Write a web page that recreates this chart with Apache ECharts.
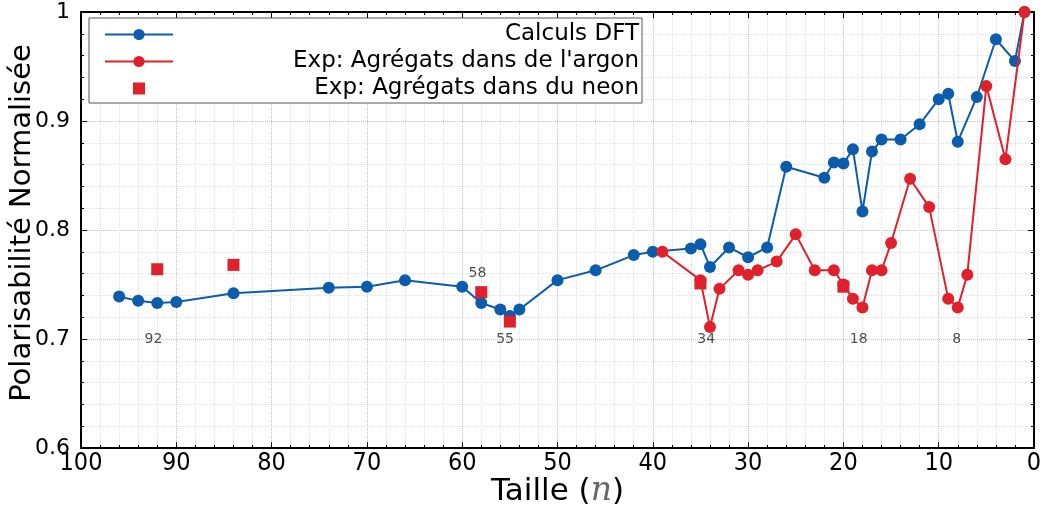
<!DOCTYPE html>
<html>
<head>
<meta charset="utf-8">
<script src="https://cdn.jsdelivr.net/npm/echarts@6/dist/echarts.min.js"></script>
<style>
  html, body { margin: 0; padding: 0; background: #fff; }
  #chart { width: 1049px; height: 507px; }
</style>
</head>
<body>
<div id="chart"></div>
<script>
// Calculs DFT (taille n, polarisabilité normalisée)
var dftN = [96, 94, 92, 90, 84, 74, 70, 66, 60, 58, 56, 55, 54, 50, 46, 42, 40, 36, 35, 34, 32, 30, 28, 26, 22, 21, 20, 19, 18, 17, 16, 14, 12, 10, 9, 8, 6, 4, 2, 1];
var dftY = [0.739, 0.735, 0.733, 0.734, 0.742, 0.747, 0.748, 0.754, 0.748, 0.733, 0.727, 0.721, 0.727, 0.754, 0.763, 0.777, 0.780, 0.783, 0.787, 0.766, 0.784, 0.775, 0.784, 0.858, 0.848, 0.862, 0.861, 0.874, 0.817, 0.872, 0.883, 0.883, 0.897, 0.920, 0.925, 0.881, 0.922, 0.975, 0.955, 1.0];

// Exp: argon
var argonN = [39, 35, 34, 33, 31, 30, 29, 27, 25, 23, 21, 20, 19, 18, 17, 16, 15, 13, 11, 9, 8, 7, 5, 3, 1];
var argonY = [0.780, 0.754, 0.711, 0.746, 0.763, 0.759, 0.763, 0.771, 0.796, 0.763, 0.763, 0.750, 0.737, 0.729, 0.763, 0.763, 0.788, 0.847, 0.821, 0.737, 0.729, 0.759, 0.932, 0.865, 1.0];

// Exp: neon
var neonN = [92, 84, 58, 55, 35, 20];
var neonY = [0.764, 0.768, 0.743, 0.716, 0.751, 0.748];

// annotations
var annoText = ['92', '58', '55', '34', '18', '8'];
var annoN = [92.4, 58.4, 55.5, 34.4, 18.4, 8.1];
var annoY = [0.7, 0.760, 0.7, 0.7, 0.7, 0.7];

var blue = '#0b5cad';
var red = '#e0202a';

function pairs(xs, ys) {
  return xs.map(function (x, i) { return [x, ys[i]]; });
}

var myChart = echarts.init(document.getElementById('chart'));

var gridLine = { show: true, lineStyle: { type: 'dotted', color: '#c4c4c4', width: 1 } };
var minorLine = { show: true, lineStyle: { type: 'dotted', color: '#e0e0e0', width: 1 } };
var blackLine = { show: true, onZero: false, lineStyle: { color: '#000', width: 2 } };
var tick = { inside: true, length: 6, lineStyle: { color: '#000' } };
var minor = { show: true, splitNumber: 5, length: 3, lineStyle: { color: '#000' } };

// petit carré centré dans la case de la légende
var squareIcon = 'path://M0,0h0.1v0.1h-0.1z M28,1h12v12h-12z M68,14h-0.1v-0.1h0.1z';

var option = {
  animation: false,
  grid: { left: 81, right: 15, top: 12, bottom: 59, outerBoundsMode: 'none', containLabel: false },
  legend: {
    orient: 'vertical',
    left: 89,
    top: 18,
    padding: [5, 3, 3, 15],
    itemGap: 4,
    itemWidth: 68,
    itemHeight: 14,
    backgroundColor: '#fff',
    borderColor: '#555',
    borderWidth: 1,
    data: [
      { name: 'Calculs DFT' },
      { name: "Exp: Agrégats dans de l'argon" },
      { name: 'Exp: Agrégats dans du neon', icon: squareIcon }
    ],
    formatter: function (name) { return '{a|' + name + '}'; },
    textStyle: {
      rich: {
        a: { width: 461, align: 'right', fontSize: 23, lineHeight: 24, fontFamily: 'DejaVu Sans', color: '#000' }
      }
    }
  },
  xAxis: [{
    type: 'value', min: 0, max: 100, interval: 10, inverse: true, position: 'bottom',
    name: 'Taille ({i|n})', nameLocation: 'middle', nameGap: 27, nameMoveOverlap: false,
    nameTextStyle: {
      fontSize: 31, fontFamily: 'DejaVu Sans', color: '#000',
      rich: { i: { fontSize: 33, fontStyle: 'italic', fontFamily: 'DejaVu Serif', color: '#666' } }
    },
    axisLine: blackLine,
    axisTick: tick,
    minorTick: minor,
    axisLabel: { fontSize: 25, color: '#000', fontFamily: 'DejaVu Sans Condensed', margin: 3 },
    splitLine: gridLine,
    minorSplitLine: minorLine
  }, {
    type: 'value', min: 0, max: 100, interval: 10, inverse: true, position: 'top',
    axisLine: blackLine,
    axisTick: tick,
    minorTick: minor,
    axisLabel: { show: false },
    splitLine: { show: false }
  }],
  yAxis: [{
    type: 'value', min: 0.6, max: 1, interval: 0.1, position: 'left',
    name: 'Polarisabilité Normalisée', nameLocation: 'middle', nameGap: 44, nameMoveOverlap: false,
    nameTextStyle: { fontSize: 29, fontFamily: 'DejaVu Sans', color: '#000', padding: [0, 0, 0, 14] },
    axisLine: blackLine,
    axisTick: tick,
    minorTick: minor,
    axisLabel: { fontSize: 22, color: '#000', fontFamily: 'DejaVu Sans', margin: 11 },
    splitLine: gridLine,
    minorSplitLine: minorLine
  }, {
    type: 'value', min: 0.6, max: 1, interval: 0.1, position: 'right',
    axisLine: blackLine,
    axisTick: tick,
    minorTick: minor,
    axisLabel: { show: false },
    splitLine: { show: false }
  }],
  series: [
    {
      name: 'Calculs DFT', type: 'line',
      data: pairs(dftN, dftY),
      symbol: 'circle', symbolSize: 12,
      itemStyle: { color: blue },
      lineStyle: { color: blue, width: 2 },
      z: 3
    },
    {
      name: "Exp: Agrégats dans de l'argon", type: 'line',
      data: pairs(argonN, argonY),
      symbol: 'circle', symbolSize: 12,
      itemStyle: { color: red },
      lineStyle: { color: red, width: 2 },
      z: 4
    },
    {
      name: 'Exp: Agrégats dans du neon', type: 'scatter',
      data: pairs(neonN, neonY),
      symbol: 'rect', symbolSize: 12,
      itemStyle: { color: red, opacity: 1 },
      z: 5
    },
    {
      name: 'annotations', type: 'scatter',
      data: annoN.map(function (n, i) { return { value: [n, annoY[i]], label: { formatter: annoText[i] } }; }),
      symbolSize: 0,
      silent: true,
      label: { show: true, position: 'inside', fontSize: 14, color: '#222', fontFamily: 'DejaVu Sans' },
      z: 6
    }
  ]
};
myChart.setOption(option);

window.onresize = function () {
  myChart.resize();
};
</script>
</body>
</html>
